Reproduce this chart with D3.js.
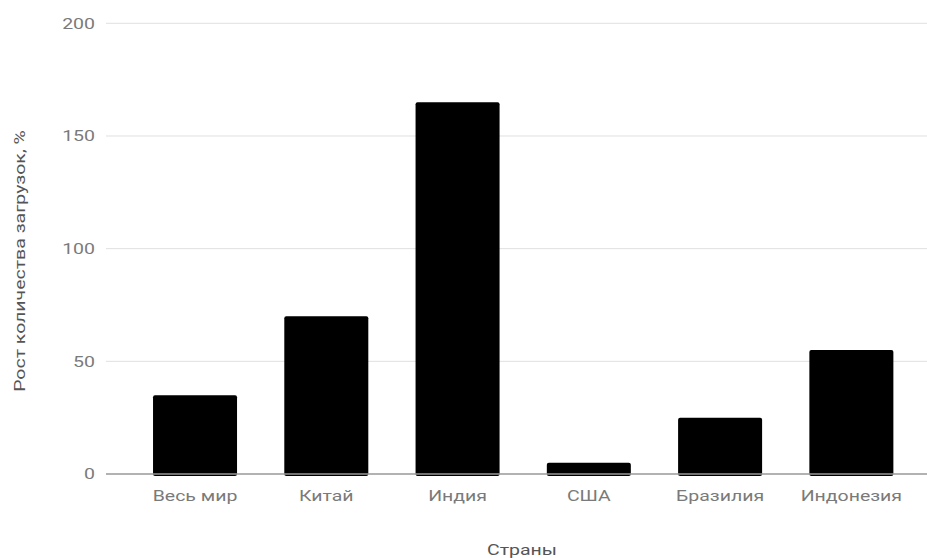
<!DOCTYPE html>
<html><head><meta charset="utf-8">
<script src="https://cdn.jsdelivr.net/npm/d3@7"></script>
<style>
html,body{margin:0;padding:0;background:#fff;}
text{font-family:Roboto,"Noto Sans",sans-serif;}
</style></head>
<body><svg id="c" width="927" height="558"></svg>
<script>
const categories = ["Весь мир","Китай","Индия","США","Бразилия","Индонезия"];
const values = [35, 70, 165, 5, 25, 55];
const yTicks = [0, 50, 100, 150, 200];
const xTitle = "Страны";
const yTitle = "Рост количества загрузок, %";

const FS = 15, SX = 1.3;
const svg = d3.select("#c");
const y = d3.scaleLinear().domain([0,200]).range([474, 23.3]);
const x = d3.scaleBand().domain(categories).range([129.4, 917]).paddingInner(0.36).paddingOuter(0.18);

// gridlines
svg.append("g").selectAll("line").data(yTicks.filter(d=>d>0)).join("line")
  .attr("x1",106).attr("x2",927)
  .attr("y1",d=>y(d)).attr("y2",d=>y(d))
  .attr("stroke","#e0e0e0").attr("stroke-width",1);

// y tick labels
svg.append("g").selectAll("text").data(yTicks).join("text")
  .attr("transform",d=>`translate(95,${y(d)}) scale(${SX},1)`)
  .attr("dy","0.35em")
  .attr("text-anchor","end").attr("font-size",FS).attr("fill","#7a7a7a")
  .text(d=>d);

// bars
svg.append("g").selectAll("rect").data(values).join("rect")
  .attr("x",(d,i)=>x(categories[i]))
  .attr("width",x.bandwidth())
  .attr("y",d=>y(d))
  .attr("height",d=>y(0)-y(d)+2)
  .attr("rx",2).attr("ry",2)
  .attr("fill","#000");

// baseline
svg.append("line").attr("x1",106).attr("x2",927)
  .attr("y1",y(0)).attr("y2",y(0))
  .attr("stroke","#999").attr("stroke-width",1.5);

// x tick labels
svg.append("g").selectAll("text").data(categories).join("text")
  .attr("transform",d=>`translate(${x(d)+x.bandwidth()/2},496) scale(${SX},1)`)
  .attr("dy","0.35em")
  .attr("text-anchor","middle").attr("font-size",FS).attr("fill","#7a7a7a")
  .text(d=>d);

// axis titles
svg.append("text").attr("transform",`translate(522,550) scale(${SX},1)`).attr("dy","0.35em")
  .attr("text-anchor","middle").attr("font-size",FS).attr("fill","#555")
  .text(xTitle);
svg.append("text").attr("transform",`translate(20,261) rotate(-90) scale(${SX},1)`)
  .attr("dy","0.35em").attr("text-anchor","middle").attr("font-size",FS).attr("fill","#555")
  .text(yTitle);
</script></body></html>
